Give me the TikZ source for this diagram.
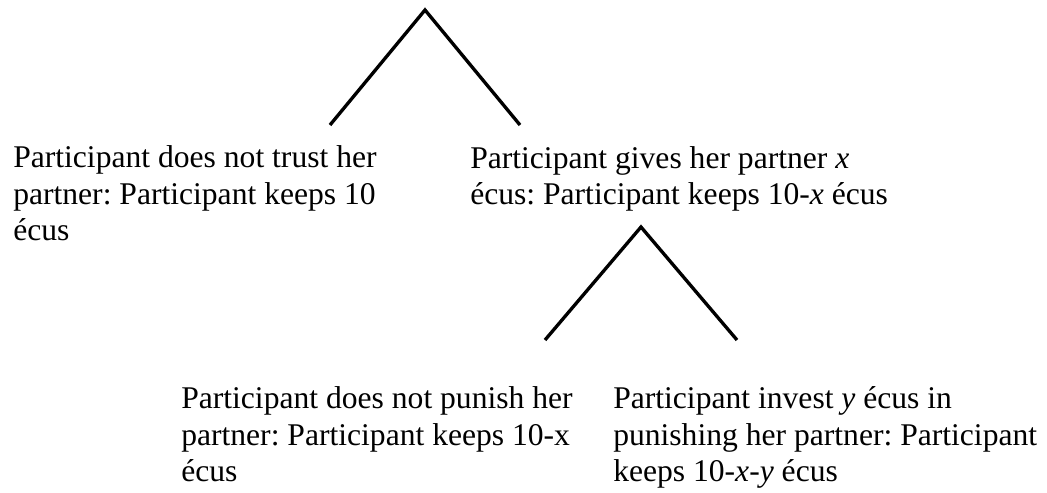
\documentclass[tikz,border=0pt]{standalone}
\usepackage{fontspec}
\setmainfont{Liberation Serif}
\frenchspacing
\usepackage{tikz}
\usetikzlibrary{positioning}
\tikzstyle{outcome} = [anchor=base west, align=left, inner sep=0pt, font=\fontsize{23.7}{27.2}\selectfont]
\tikzstyle{branch} = [line width=2.5pt, draw=black]

\begin{document}
\begin{tikzpicture}[x=0.75pt, y=-0.75pt]
\useasboundingbox (0,0) rectangle (1047,493);

% first choice (nodes sit on the baseline of their last line)
\coordinate (root) at (425,10);
\coordinate (rootL) at (330,125);
\coordinate (rootR) at (520,125);
\node (trust) [outcome] at (13,240.5) {Participant does not trust her\\partner: Participant keeps 10\\écus};
\node (give) [outcome] at (470,204.3) {Participant gives her partner \textit{x}\\écus: Participant keeps 10-\textit{x} écus};

% second choice
\coordinate (node2) at (641,227);
\coordinate (node2L) at (545,340);
\coordinate (node2R) at (737,340);
\node (nopunish) [outcome] at (181,481.5) {Participant does not punish her\\partner: Participant keeps 10-x\\écus};
\node (punish) [outcome] at (613,481.5) {Participant invest \textit{y} écus in\\punishing her partner: Participant\\keeps 10-\textit{x}-\textit{y} écus};

\draw [branch] (rootL) -- (root) -- (rootR);
\draw [branch] (node2L) -- (node2) -- (node2R);

\end{tikzpicture}
\end{document}
